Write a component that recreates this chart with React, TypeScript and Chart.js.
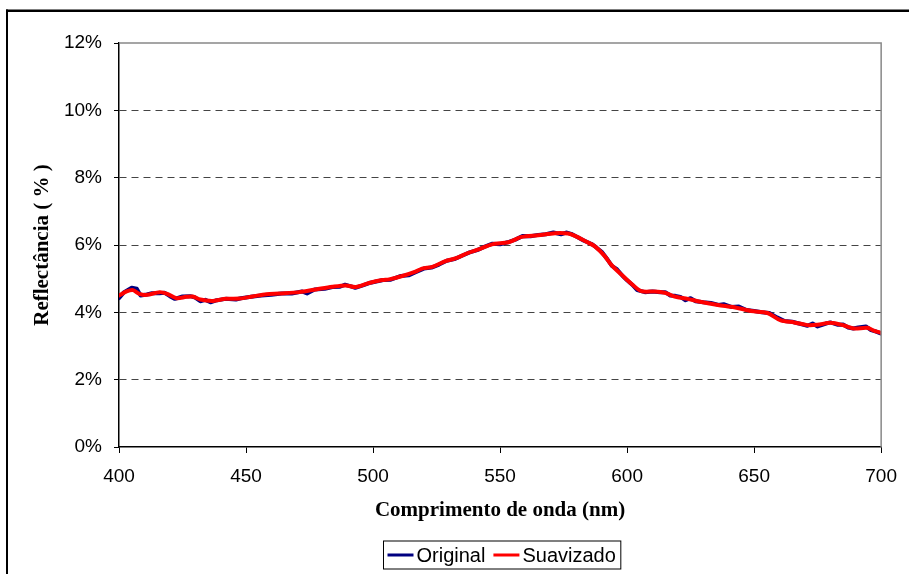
import React, { useEffect, useRef } from "react";
import { Chart, registerables } from "chart.js";

Chart.register(...registerables);

// Smoothed series ("Suavizado")
const smoothWl = [400, 403, 405.5, 408, 411, 416, 419, 422.6, 426.5, 429, 432, 437, 442, 447.5, 452.5, 458, 463, 471, 477.5, 484, 489.3, 493.2, 498.4, 503.6, 506.3, 511.5, 516.7, 519.3, 523.3, 528.5, 532.4, 537.6, 541.6, 546.8, 553.3, 558.5, 565, 571.6, 576.8, 579.5, 583.4, 587.3, 591.2, 593.9, 597.8, 601.7, 605.6, 610.9, 614.8, 618.7, 623.9, 627.8, 635.7, 642.2, 648.8, 655.3, 660.5, 665.8, 671, 674.9, 680.1, 685.4, 689.3, 694.5, 697.1, 700];
const smoothVal = [4.5, 4.62, 4.66, 4.55, 4.52, 4.6, 4.55, 4.42, 4.46, 4.47, 4.38, 4.34, 4.4, 4.41, 4.47, 4.54, 4.56, 4.6, 4.68, 4.76, 4.8, 4.75, 4.87, 4.96, 4.98, 5.08, 5.21, 5.3, 5.35, 5.52, 5.6, 5.77, 5.87, 6.02, 6.08, 6.24, 6.29, 6.35, 6.34, 6.27, 6.12, 5.96, 5.67, 5.4, 5.12, 4.85, 4.63, 4.62, 4.58, 4.47, 4.4, 4.33, 4.22, 4.15, 4.04, 3.98, 3.76, 3.7, 3.62, 3.63, 3.69, 3.61, 3.52, 3.54, 3.46, 3.39];

// Original series
const origWl = [400, 402, 405, 407, 408.5, 411, 413, 416, 418, 420, 422, 425, 428, 430, 432, 434, 436, 438, 442, 446, 448, 452, 456, 460, 464, 468, 472, 474, 477, 481, 484, 487, 489, 491, 493, 496, 499, 504, 507, 511, 514, 517, 520, 523, 526, 529, 532, 535, 538, 541, 544, 547, 550, 553, 556, 559, 562, 565, 568, 571, 574, 576, 578, 580, 583, 586, 588, 590, 592, 594, 596, 598, 600, 602, 604, 607, 610, 613, 615, 617, 619, 621, 623, 625, 627, 630, 633, 636, 638, 641, 644, 647, 650, 653, 656, 659, 662, 665, 668, 671, 673, 675, 678, 680, 683, 685, 687, 689, 691, 694, 696, 698, 700];
const origVal = [4.42, 4.6, 4.73, 4.7, 4.5, 4.53, 4.57, 4.57, 4.58, 4.48, 4.4, 4.47, 4.48, 4.44, 4.33, 4.37, 4.3, 4.35, 4.4, 4.38, 4.42, 4.46, 4.5, 4.52, 4.56, 4.56, 4.62, 4.56, 4.68, 4.7, 4.75, 4.76, 4.82, 4.78, 4.73, 4.8, 4.88, 4.96, 4.97, 5.08, 5.1, 5.2, 5.3, 5.33, 5.42, 5.53, 5.58, 5.68, 5.78, 5.85, 5.95, 6.04, 6.02, 6.08, 6.16, 6.27, 6.26, 6.3, 6.32, 6.37, 6.32, 6.37, 6.33, 6.25, 6.13, 6.03, 5.92, 5.8, 5.6, 5.38, 5.28, 5.1, 4.95, 4.82, 4.66, 4.6, 4.62, 4.6, 4.6, 4.5, 4.49, 4.46, 4.36, 4.42, 4.33, 4.3, 4.28, 4.22, 4.24, 4.16, 4.17, 4.07, 4.04, 4.0, 3.98, 3.85, 3.74, 3.72, 3.66, 3.6, 3.67, 3.58, 3.66, 3.7, 3.63, 3.64, 3.55, 3.52, 3.55, 3.58, 3.47, 3.43, 3.37];

const seriesNames = ["Original", "Suavizado"];
const seriesColors = ["#000080", "#FF0000"];
const xTitle = "Comprimento de onda (nm)";
const yTitle = "Reflectância ( % )";
const yMin = 0, yMax = 12, yStep = 2;
const xMin = 400, xMax = 700, xStep = 50;

const decor = {
  id: "decor",
  afterDraw(chart: any) {
    const ctx = chart.ctx;
    const ca = chart.chartArea;
    ctx.save();
    // outer chart-area border
    ctx.fillStyle = "#000";
    ctx.fillRect(6, 9.5, 909, 2.5);
    ctx.fillRect(6, 9.5, 2, 600);
    // plot area top / right border (grey)
    ctx.strokeStyle = "#888";
    ctx.lineWidth = 1.5;
    ctx.beginPath();
    ctx.moveTo(ca.left, ca.top);
    ctx.lineTo(ca.right, ca.top);
    ctx.lineTo(ca.right, ca.bottom);
    ctx.stroke();
    // axis titles
    ctx.fillStyle = "#000";
    ctx.font = "bold 21px 'Liberation Serif', 'Times New Roman', serif";
    ctx.textAlign = "center";
    ctx.textBaseline = "middle";
    ctx.fillText(xTitle, (ca.left + ca.right) / 2, 511);
    ctx.save();
    ctx.translate(43, (ca.top + ca.bottom) / 2);
    ctx.rotate(-Math.PI / 2);
    ctx.fillText(yTitle, 0, 0);
    ctx.restore();
    // legend
    ctx.font = "20px 'Liberation Sans', Arial, sans-serif";
    ctx.textAlign = "left";
    const bx = 383.5, by = 541, bh = 28;
    const lineLen = 26;
    let x = bx + 4;
    const cy = by + bh / 2;
    for (let i = 0; i < seriesNames.length; i++) {
      ctx.strokeStyle = seriesColors[i];
      ctx.lineWidth = 3;
      ctx.beginPath();
      ctx.moveTo(x, cy);
      ctx.lineTo(x + lineLen, cy);
      ctx.stroke();
      x += lineLen + 3;
      ctx.fillStyle = "#000";
      ctx.fillText(seriesNames[i], x, cy + 1);
      x += ctx.measureText(seriesNames[i]).width + 8;
    }
    ctx.strokeStyle = "#000";
    ctx.lineWidth = 1;
    ctx.strokeRect(bx, by, x - bx - 3, bh);
    ctx.restore();
  },
};

export default function App() {
  const ref = useRef<HTMLCanvasElement>(null);
  useEffect(() => {
    if (!ref.current) return;
    const chart = new Chart(ref.current, {
      type: "line",
      data: {
        datasets: [
          {
            label: seriesNames[0],
            data: origWl.map((x, i) => ({ x, y: origVal[i] })),
            borderColor: seriesColors[0],
            borderWidth: 4,
            pointRadius: 0,
            tension: 0,
            order: 2,
            borderJoinStyle: "round",
            borderCapStyle: "round",
          },
          {
            label: seriesNames[1],
            data: smoothWl.map((x, i) => ({ x, y: smoothVal[i] })),
            borderColor: seriesColors[1],
            borderWidth: 4,
            pointRadius: 0,
            tension: 0.3,
            order: 1,
            borderJoinStyle: "round",
            borderCapStyle: "round",
          },
        ],
      },
      options: {
        animation: false,
        responsive: false,
        maintainAspectRatio: false,
        layout: { padding: { left: 0, top: 43, right: 25, bottom: 0 } },
        plugins: { legend: { display: false }, tooltip: { enabled: false } },
        scales: {
          x: {
            type: "linear",
            min: xMin,
            max: xMax,
            ticks: {
              stepSize: xStep,
              padding: 12,
              color: "#000",
              font: { family: "'Liberation Sans', Arial, sans-serif", size: 19 },
              maxRotation: 0,
            },
            grid: { drawOnChartArea: false, drawTicks: true, tickLength: 6, tickColor: "#000", color: "#000" },
            border: { display: true, color: "#000", width: 1.5 },
            afterFit: (s: any) => { s.height = 127; },
          },
          y: {
            min: yMin,
            max: yMax,
            ticks: {
              stepSize: yStep,
              padding: 12,
              color: "#000",
              font: { family: "'Liberation Sans', Arial, sans-serif", size: 19 },
              callback: (v: any) => `${v}%`,
            },
            grid: {
              color: (c: any) => (c.tick && (c.tick.value === yMax || c.tick.value === yMin) ? "rgba(0,0,0,0)" : "#444"),
              tickColor: "#000",
              tickLength: 5,
              lineWidth: 1,
            },
            border: { display: true, color: "#000", width: 1.5, dash: [7, 5] },
            afterFit: (s: any) => { s.width = 119; },
          },
        },
      },
      plugins: [decor],
    });
    return () => chart.destroy();
  }, []);
  return (
    <div style={{ position: "absolute", left: 0, top: 0, width: 909, height: 574, background: "#fff" }}>
      <canvas ref={ref} width={909} height={574} style={{ width: 909, height: 574, display: "block" }} />
    </div>
  );
}
